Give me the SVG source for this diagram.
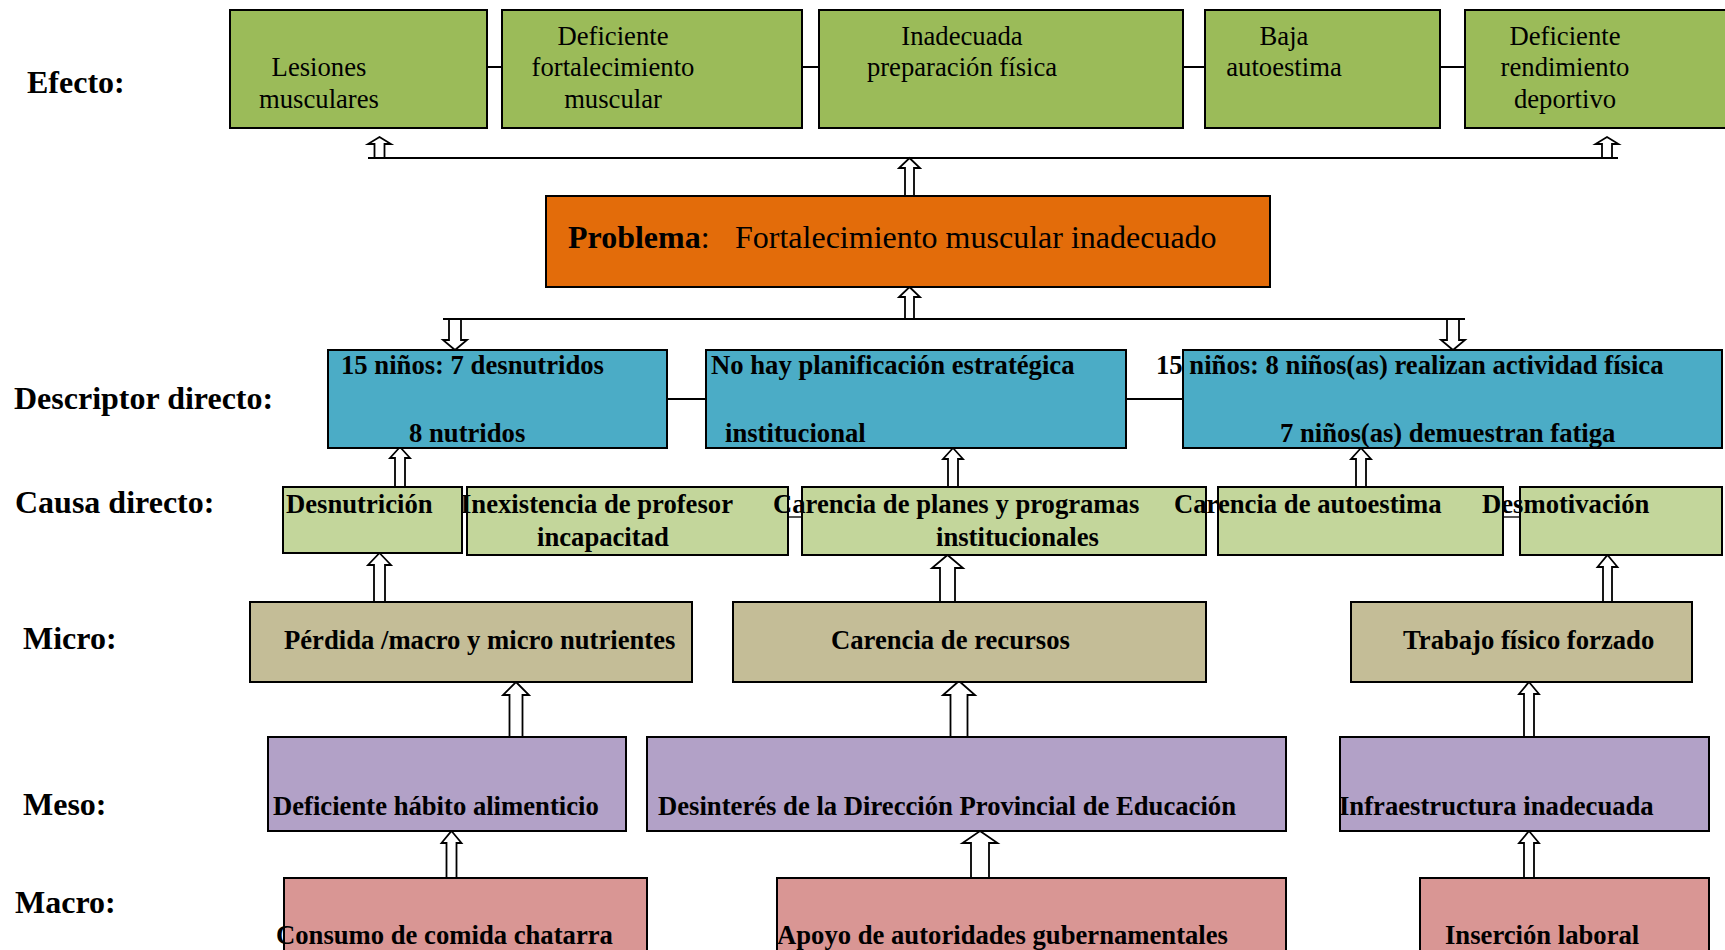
<svg xmlns="http://www.w3.org/2000/svg" width="1725" height="950" viewBox="0 0 1725 950">
<style>
.b{stroke:#000;stroke-width:2}
.ef{fill:#9BBB59}.pr{fill:#E36C0A}.de{fill:#4BACC6}.ca{fill:#C3D69B}.mi{fill:#C4BD97}.me{fill:#B2A1C7}.ma{fill:#D99694}
text{font-family:"Liberation Serif","Times New Roman",serif;fill:#000}
.lab{font-size:32px;font-weight:bold}
.r{font-size:26.67px}
.t{font-size:26.67px;font-weight:bold}
.c{text-anchor:middle}
.ln{stroke:#000;stroke-width:2;fill:none}
.ar{fill:#fff;stroke:#000;stroke-width:1.8;stroke-linejoin:miter}
</style>
<rect width="1725" height="950" fill="#fff"/>
<g id="labels">
<text class="lab" x="27" y="93">Efecto:</text>
<text class="lab" x="14" y="409">Descriptor directo:</text>
<text class="lab" x="15" y="513">Causa directo:</text>
<text class="lab" x="23" y="649">Micro:</text>
<text class="lab" x="23" y="815">Meso:</text>
<text class="lab" x="15" y="913">Macro:</text>
</g>
<g id="connectors">
<line class="ln" x1="487" y1="67" x2="502" y2="67"/>
<line class="ln" x1="802" y1="67" x2="819" y2="67"/>
<line class="ln" x1="1183" y1="67" x2="1205" y2="67"/>
<line class="ln" x1="1440" y1="67" x2="1465" y2="67"/>
<line class="ln" x1="368" y1="158" x2="1618" y2="158"/>
<line class="ln" x1="443" y1="319" x2="1465" y2="319"/>
<line class="ln" x1="667" y1="399" x2="706" y2="399"/>
<line class="ln" x1="1126" y1="399" x2="1183" y2="399"/>
<line x1="464.5" y1="495" x2="464.5" y2="512" stroke="#777" stroke-width="5"/>
<line x1="788" y1="517" x2="802" y2="517" stroke="#555" stroke-width="2"/>
<line x1="1503" y1="517" x2="1520" y2="517" stroke="#555" stroke-width="2"/>
<path class="ar" d="M379.5,137 L391,144 L384.5,144 L384.5,158 L374.5,158 L374.5,144 L368,144 Z"/>
<path class="ar" d="M1607,137 L1618.5,144 L1612,144 L1612,158 L1602,158 L1602,144 L1595.5,144 Z"/>
<path class="ar" d="M909.5,158 L920,168 L914,168 L914,196 L905,196 L905,168 L899,168 Z"/>
<path class="ar" d="M909.5,287 L920,297 L914,297 L914,319 L905,319 L905,297 L899,297 Z"/>
<path class="ar" d="M449,319 L461,319 L461,340 L467,340 L455,350 L443,340 L449,340 Z"/>
<path class="ar" d="M1447,319 L1459,319 L1459,340 L1465,340 L1453,350 L1441,340 L1447,340 Z"/>
<path class="ar" d="M400,447 L410,458 L405,458 L405,487 L395,487 L395,458 L390,458 Z"/>
<path class="ar" d="M953,448 L963,459 L958,459 L958,488 L948,488 L948,459 L943,459 Z"/>
<path class="ar" d="M1361,448 L1371,459 L1366,459 L1366,488 L1356,488 L1356,459 L1351,459 Z"/>
<path class="ar" d="M379.5,553 L391,565 L385,565 L385,602 L374,602 L374,565 L368,565 Z"/>
<path class="ar" d="M947.5,555 L963,568 L955,568 L955,602 L940,602 L940,568 L932,568 Z"/>
<path class="ar" d="M1607.5,555 L1617.5,567 L1612,567 L1612,602 L1603,602 L1603,567 L1597.5,567 Z"/>
<path class="ar" d="M516,682 L529,695 L522.5,695 L522.5,737 L509.5,737 L509.5,695 L503,695 Z"/>
<path class="ar" d="M959,681 L975,695 L967.5,695 L967.5,737 L950.5,737 L950.5,695 L943,695 Z"/>
<path class="ar" d="M1529,682 L1539,694 L1534,694 L1534,737 L1524,737 L1524,694 L1519,694 Z"/>
<path class="ar" d="M451.5,831 L461.5,843 L456.5,843 L456.5,878 L446.5,878 L446.5,843 L441.5,843 Z"/>
<path class="ar" d="M980,831 L997.5,843 L989,843 L989,878 L971,878 L971,843 L962.5,843 Z"/>
<path class="ar" d="M1529,831 L1539,843 L1534,843 L1534,878 L1524,878 L1524,843 L1519,843 Z"/>
</g>
<g id="efecto1"><rect class="b ef" x="230" y="10" width="257" height="118"/>
<text class="r c" x="319" y="76">Lesiones</text><text class="r c" x="319" y="108">musculares</text></g>
<g id="efecto2"><rect class="b ef" x="502" y="10" width="300" height="118"/>
<text class="r c" x="613" y="45">Deficiente</text><text class="r c" x="613" y="76">fortalecimiento</text><text class="r c" x="613" y="108">muscular</text></g>
<g id="efecto3"><rect class="b ef" x="819" y="10" width="364" height="118"/>
<text class="r c" x="962" y="45">Inadecuada</text><text class="r c" x="962" y="76">preparación física</text></g>
<g id="efecto4"><rect class="b ef" x="1205" y="10" width="235" height="118"/>
<text class="r c" x="1284" y="45">Baja</text><text class="r c" x="1284" y="76">autoestima</text></g>
<g id="efecto5"><rect class="b ef" x="1465" y="10" width="270" height="118"/>
<text class="r c" x="1565" y="45">Deficiente</text><text class="r c" x="1565" y="76">rendimiento</text><text class="r c" x="1565" y="108">deportivo</text></g>
<g id="problema"><rect class="b pr" x="546" y="196" width="724" height="91"/>
<text x="568" y="248" style="font-size:32px"><tspan font-weight="bold">Problema</tspan><tspan>:</tspan><tspan x="735">Fortalecimiento muscular inadecuado</tspan></text></g>
<g id="descriptor1"><rect class="b de" x="328" y="350" width="339" height="98"/>
<text class="t" x="341" y="374">15 niños: 7 desnutridos</text><text class="t" x="409" y="442">8 nutridos</text></g>
<g id="descriptor2"><rect class="b de" x="706" y="350" width="420" height="98"/>
<text class="t" x="711" y="374">No hay planificación estratégica</text><text class="t" x="725" y="442">institucional</text></g>
<g id="descriptor3"><rect class="b de" x="1183" y="350" width="539" height="98"/>
<text class="t" x="1156" y="374">15 niños: 8 niños(as) realizan actividad física</text><text class="t" x="1280" y="442">7 niños(as) demuestran fatiga</text></g>
<g id="causa1"><rect class="b ca" x="283" y="487" width="179" height="66"/>
<text class="t" x="286" y="513">Desnutrición</text></g>
<g id="causa2"><rect class="b ca" x="467" y="487" width="321" height="68"/>
<text class="t" x="461" y="513">Inexistencia de profesor</text><text class="t" x="537" y="546">incapacitad</text></g>
<g id="causa3"><rect class="b ca" x="802" y="487" width="404" height="68"/>
<text class="t" x="773" y="513">Carencia de planes y programas</text><text class="t" x="936" y="546">institucionales</text></g>
<g id="causa4"><rect class="b ca" x="1218" y="487" width="285" height="68"/>
<text class="t" x="1174" y="513">Carencia de autoestima</text></g>
<g id="causa5"><rect class="b ca" x="1520" y="487" width="202" height="68"/>
<text class="t" x="1482" y="513">Desmotivación</text></g>
<g id="micro1"><rect class="b mi" x="250" y="602" width="442" height="80"/>
<text class="t" x="284" y="649">Pérdida /macro y micro nutrientes</text></g>
<g id="micro2"><rect class="b mi" x="733" y="602" width="473" height="80"/>
<text class="t" x="831" y="649">Carencia de recursos</text></g>
<g id="micro3"><rect class="b mi" x="1351" y="602" width="341" height="80"/>
<text class="t" x="1403" y="649">Trabajo físico forzado</text></g>
<g id="meso1"><rect class="b me" x="268" y="737" width="358" height="94"/>
<text class="t" x="273" y="815">Deficiente hábito alimenticio</text></g>
<g id="meso2"><rect class="b me" x="647" y="737" width="639" height="94"/>
<text class="t" x="658" y="815">Desinterés de la Dirección Provincial de Educación</text></g>
<g id="meso3"><rect class="b me" x="1340" y="737" width="369" height="94"/>
<text class="t" x="1339" y="815">Infraestructura inadecuada</text></g>
<g id="macro1"><rect class="b ma" x="284" y="878" width="363" height="90"/>
<text class="t" x="276" y="944">Consumo de comida chatarra</text></g>
<g id="macro2"><rect class="b ma" x="777" y="878" width="509" height="90"/>
<text class="t" x="777" y="944">Apoyo de autoridades gubernamentales</text></g>
<g id="macro3"><rect class="b ma" x="1420" y="878" width="289" height="90"/>
<text class="t" x="1445" y="944">Inserción laboral</text></g>
</svg>
